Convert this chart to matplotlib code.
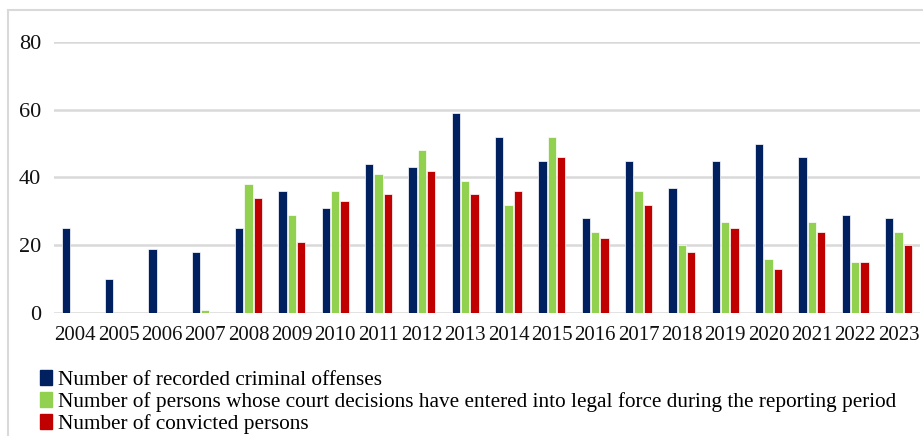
import numpy as np
import matplotlib.pyplot as plt
from matplotlib.patches import Rectangle, Patch

years = [str(y) for y in range(2004, 2024)]
offenses = [25, 10, 19, 18, 25, 36, 31, 44, 43, 59, 52, 45, 28, 45, 37, 45, 50, 46, 29, 28]
decisions = [0, 0, 0, 1, 38, 29, 36, 41, 48, 39, 32, 52, 24, 36, 20, 27, 16, 27, 15, 24]
convicted = [0, 0, 0, 0, 34, 21, 33, 35, 42, 35, 36, 46, 22, 32, 18, 25, 13, 24, 15, 20]

labels = ['Number of recorded criminal offenses',
          'Number of persons whose court decisions have entered into legal force during the reporting period',
          'Number of convicted persons']
colors = ['#002060', '#92D050', '#C00000']

plt.rcParams['font.family'] = ['Liberation Serif', 'DejaVu Serif']

fig = plt.figure(figsize=(9.23, 4.36), dpi=100)
ax = fig.add_axes([0.058, 0.282, 0.939, 0.622])

x = np.arange(len(years))
w = 0.19
step = 0.215
for i, (vals, c) in enumerate(zip([offenses, decisions, convicted], colors)):
    ax.bar(x + (i - 1) * step, vals, width=w, color=c, edgecolor='white', linewidth=0.5, zorder=3)

ax.set_xlim(-0.5, len(years) - 0.5)
ax.set_ylim(0, 80)
ax.set_yticks([0, 20, 40, 60, 80])
ax.set_xticks(x)
ax.set_xticklabels(years)
ax.yaxis.grid(True, color='#d9d9d9', linewidth=1.8, zorder=0)
for s in ax.spines.values():
    s.set_visible(False)
ax.tick_params(axis='both', length=0, labelsize=15, colors='#111111')
ax.tick_params(axis='x', pad=9)
ax.tick_params(axis='y', labelsize=16, pad=9)

handles = [Patch(color=c) for c in colors]
fig.legend(handles, labels, loc='lower left', bbox_to_anchor=(0.034, -0.015),
           frameon=False, fontsize=15.3, handlelength=0.55, handleheight=0.7,
           handletextpad=0.3, labelspacing=0.1, borderaxespad=0)

fig.patches.append(Rectangle((0.009, -0.01), 1.1, 0.988, transform=fig.transFigure,
                             fill=False, edgecolor='#d9d9d9', linewidth=1.5))

fig.savefig('out.png', dpi=100)
